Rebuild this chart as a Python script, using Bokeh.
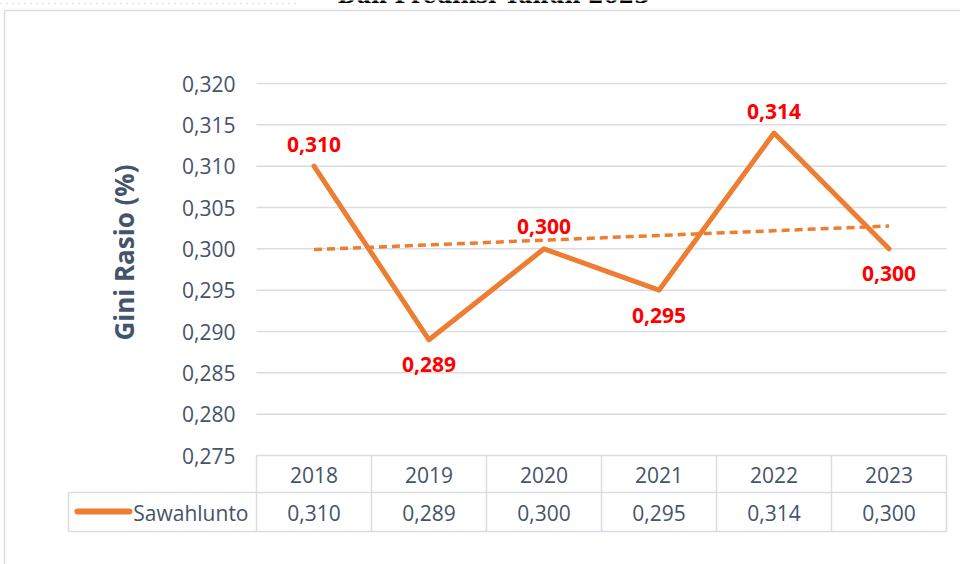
import numpy as np
from bokeh.plotting import figure
from bokeh.models import Range1d
from bokeh.core.properties import value
from bokeh.embed import file_html
from bokeh.resources import INLINE

# ---------------- data ----------------
years = ["2018", "2019", "2020", "2021", "2022", "2023"]
gini = [0.310, 0.289, 0.300, 0.295, 0.314, 0.300]
y_ticks = [0.275, 0.280, 0.285, 0.290, 0.295, 0.300, 0.305, 0.310, 0.315, 0.320]
series_name = "Sawahlunto"
label_side = ["above", "below", "above", "below", "above", "below"]
title_text = "Dan Prediksi Tahun 2023"
y_label = "Gini Rasio (%)"

# ---------------- style / layout ----------------
ORANGE = "#ED7D31"
RED = "#FF0000"
TXT = "#44546A"
GRID = "#D9DDE3"
FONT = "Open Sans"

W, H = 960, 564
FL, FR, FB, FTOP = 256, 946, 455, 83    # plot area edges (px)
Y0 = y_ticks[0]
K = (FB - FTOP) / (y_ticks[-1] - y_ticks[0])   # px per unit
CW = (FR - FL) / len(years)

def py(px):
    return Y0 + (FB - px) / K

def dx(px):
    return (px - FL) / CW

fmt = lambda v: f"{v:.3f}".replace(".", ",")

xs = [i + 0.5 for i in range(len(years))]
n = len(years)

# trend line (least squares over the series)
xi = np.arange(n)
slope, icpt = np.polyfit(xi, gini, 1)
trend = list(slope * xi + icpt)

p = figure(width=W, height=H,
           x_range=Range1d(dx(0), dx(W)), y_range=Range1d(py(H), py(0)),
           x_axis_type=None, y_axis_type=None,
           output_backend="svg", toolbar_location=None, min_border=0)
p.outline_line_color = None
p.background_fill_color = "white"
p.border_fill_color = "white"

# gridlines (value axis)
p.segment(x0=[0] * len(y_ticks), x1=[n] * len(y_ticks), y0=y_ticks, y1=y_ticks,
          line_color=GRID, line_width=1.5)
# tick labels
p.text(x=[dx(235)] * len(y_ticks), y=y_ticks, text=[fmt(t) for t in y_ticks],
       text_align="right", text_baseline="middle", text_color=TXT,
       text_font=value(FONT), text_font_size="21px")
# axis title
p.text(x=[dx(123)], y=[py(252)], text=[y_label], angle=np.pi / 2,
       text_align="center", text_baseline="middle", text_color=TXT,
       text_font=value(FONT), text_font_style="bold", text_font_size="26px")

# series
p.line(xs, trend, line_color=ORANGE, line_width=3.5, line_dash="8 5")
p.line(xs, gini, line_color=ORANGE, line_width=5, line_join="round", line_cap="round")

offs = [-22 if s == "above" else 25 for s in label_side]
p.text(x=xs, y=gini, text=[fmt(v) for v in gini], y_offset=offs,
       text_align="center", text_baseline="middle", text_color=RED,
       text_font=value(FONT), text_font_style="bold", text_font_size="21px")

# ---- data table ----
xl = dx(68)
# horizontal lines
p.segment(x0=[xl, xl], x1=[n, n], y0=[py(492), py(531)], y1=[py(492), py(531)],
          line_color=GRID, line_width=1.5)
# vertical lines
vx = list(range(n + 1))
p.segment(x0=vx, x1=vx, y0=[py(FB)] * len(vx), y1=[py(531)] * len(vx),
          line_color=GRID, line_width=1.5)
p.segment(x0=[xl], x1=[xl], y0=[py(492)], y1=[py(531)], line_color=GRID, line_width=1.5)
# year row
p.text(x=xs, y=[py(474)] * n, text=years, text_align="center", text_baseline="middle",
       text_color=TXT, text_font=value(FONT), text_font_size="21px")
# value row
p.text(x=xs, y=[py(512)] * n, text=[fmt(v) for v in gini], text_align="center",
       text_baseline="middle", text_color=TXT, text_font=value(FONT), text_font_size="21px")
# legend key
p.segment(x0=[dx(77)], x1=[dx(129)], y0=[py(511)], y1=[py(511)],
          line_color=ORANGE, line_width=6, line_cap="round")
p.text(x=[dx(248)], y=[py(512)], text=[series_name], text_align="right",
       text_baseline="middle", text_color=TXT, text_font=value(FONT), text_font_size="21px")

# ---- outer chart border, dotted rule and cut title ----
p.segment(x0=[dx(4), dx(4)], x1=[dx(4), dx(W)], y0=[py(10), py(10)], y1=[py(H), py(10)],
          line_color=GRID, line_width=1.5)
p.segment(x0=[dx(0)], x1=[dx(300)], y0=[py(3)], y1=[py(3)],
          line_color="#C8C8C8", line_width=1.5, line_dash="1 5")
p.text(x=[dx(493)], y=[py(-6)], text=[title_text], text_align="center",
       text_baseline="alphabetic", text_color="black",
       text_font=value("DejaVu Serif"), text_font_style="bold", text_font_size="22px")

open("out.html", "w").write(file_html(p, INLINE))
